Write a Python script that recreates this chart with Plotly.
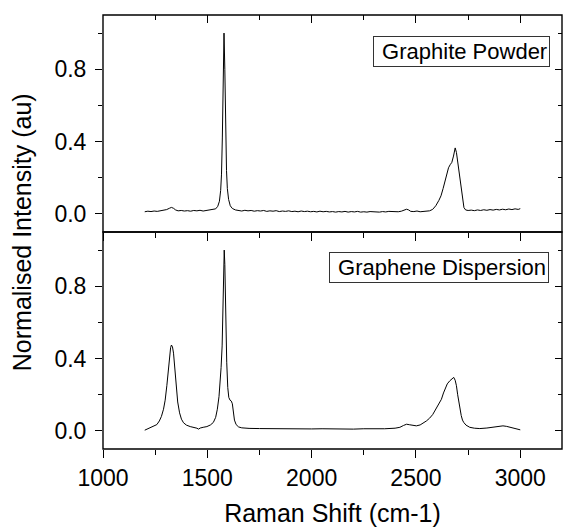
import plotly.graph_objects as go

# ---- Data ----
graphite_x = [1200, 1215, 1230, 1245, 1260, 1275, 1290, 1305, 1318, 1328, 1338, 1348, 1360, 1375, 1390,
              1405, 1420, 1435, 1450, 1465, 1480, 1495, 1510, 1525, 1540, 1550, 1558, 1564, 1568, 1572,
              1576, 1580, 1584, 1588, 1592, 1596, 1602, 1610, 1620, 1635, 1650,
              1665, 1680, 1695, 1710, 1725, 1740, 1755, 1770, 1785, 1800, 1815, 1830, 1845, 1860, 1875,
              1890, 1905, 1920, 1935, 1950, 1965, 1980, 1995, 2010, 2025, 2040, 2055, 2070, 2085, 2100,
              2115, 2130, 2145, 2160, 2175, 2190, 2205, 2220, 2235, 2250, 2265, 2280, 2295, 2310, 2325,
              2340, 2355, 2370, 2385, 2400, 2415, 2430, 2445, 2455, 2465, 2475, 2490, 2505, 2520, 2535,
              2550, 2565, 2580, 2595, 2610, 2620, 2630, 2640, 2648, 2656, 2664, 2672, 2680, 2688, 2694,
              2700, 2706, 2712, 2718, 2724, 2730, 2738, 2750, 2765, 2780, 2795, 2810, 2825, 2840, 2855,
              2870, 2885, 2900, 2915, 2930, 2945, 2960, 2975, 2990, 3000]
graphite_y = [0.012, 0.015, 0.013, 0.016, 0.014, 0.017, 0.019, 0.024, 0.031, 0.036, 0.031, 0.022, 0.017, 0.019, 0.016,
              0.018, 0.015, 0.019, 0.017, 0.020, 0.016, 0.019, 0.018, 0.021, 0.028, 0.042, 0.07, 0.13, 0.22, 0.42,
              0.78, 1.0, 0.80, 0.45, 0.24, 0.14, 0.08, 0.045, 0.03, 0.022, 0.019,
              0.016, 0.020, 0.017, 0.019, 0.015, 0.018, 0.016, 0.019, 0.014, 0.017, 0.015, 0.018, 0.013, 0.016, 0.014,
              0.017, 0.013, 0.015, 0.012, 0.016, 0.013, 0.015, 0.012, 0.014, 0.011, 0.015, 0.012, 0.014, 0.011, 0.013,
              0.010, 0.013, 0.011, 0.014, 0.010, 0.013, 0.011, 0.014, 0.010, 0.012, 0.010, 0.013, 0.011, 0.013, 0.010,
              0.013, 0.011, 0.014, 0.012, 0.014, 0.012, 0.015, 0.020, 0.026, 0.022, 0.014, 0.013, 0.016, 0.012, 0.015,
              0.014, 0.017, 0.025, 0.045, 0.075, 0.10, 0.14, 0.19, 0.225, 0.255, 0.272, 0.285, 0.32, 0.365, 0.34,
              0.29, 0.23, 0.17, 0.12, 0.07, 0.035, 0.022, 0.019, 0.021, 0.018, 0.022, 0.019, 0.023, 0.020, 0.024,
              0.021, 0.025, 0.022, 0.026, 0.023, 0.027, 0.024, 0.028, 0.025, 0.029]

graphene_x = [1200, 1215, 1230, 1245, 1258, 1270, 1280, 1290, 1298, 1306, 1313, 1319, 1324, 1328, 1333,
              1338, 1344, 1351, 1358, 1367, 1376, 1386, 1400, 1418, 1435, 1450, 1458, 1466, 1480, 1498,
              1515, 1529, 1540, 1548, 1556, 1561, 1566, 1571, 1575, 1579, 1581, 1584, 1588, 1593, 1598,
              1603, 1609, 1615, 1620, 1625, 1630, 1638, 1650, 1665, 1680, 1700, 1750, 1800, 1850, 1900,
              1950, 2000, 2050, 2100, 2150, 2200, 2250, 2300, 2350, 2400, 2423, 2440, 2455, 2470, 2485,
              2502, 2520, 2535, 2550, 2565, 2580, 2590, 2600, 2610, 2622, 2632, 2641, 2650, 2662, 2672,
              2681, 2688, 2694, 2700, 2705, 2710, 2717, 2723, 2729, 2740, 2758, 2780, 2806, 2840, 2869,
              2895, 2917, 2935, 2950, 2965, 2980, 2990, 3000]
graphene_y = [0.004, 0.012, 0.018, 0.024, 0.035, 0.055, 0.08, 0.12, 0.17, 0.25, 0.34, 0.415, 0.46, 0.475, 0.465,
              0.43, 0.35, 0.25, 0.16, 0.10, 0.065, 0.045, 0.032, 0.024, 0.02, 0.015, 0.01, 0.016, 0.02, 0.024,
              0.033, 0.047, 0.075, 0.12, 0.19, 0.25, 0.35, 0.47, 0.72, 0.97, 1.0, 0.92, 0.65, 0.38, 0.24,
              0.185, 0.17, 0.165, 0.15, 0.10, 0.06, 0.035, 0.022, 0.017, 0.015, 0.014, 0.013, 0.012, 0.013, 0.011,
              0.012, 0.011, 0.012, 0.010, 0.011, 0.010, 0.012, 0.011, 0.012, 0.015, 0.02, 0.03, 0.037, 0.034, 0.03,
              0.028, 0.033, 0.042, 0.055, 0.07, 0.09, 0.11, 0.13, 0.15, 0.175, 0.21, 0.24, 0.26, 0.277, 0.287,
              0.296, 0.28, 0.25, 0.2, 0.16, 0.12, 0.085, 0.06, 0.047, 0.032, 0.02, 0.015, 0.013, 0.016, 0.02,
              0.025, 0.028, 0.025, 0.02, 0.015, 0.012, 0.01, 0.006]

panel_labels = ["Graphite Powder", "Graphene Dispersion"]
x_title = "Raman Shift (cm-1)"
y_title = "Normalised Intensity (au)"
x_range = [1000, 3200]
y_range = [-0.1, 1.1]

FONT = "Liberation Sans, Arial, sans-serif"
LW = 1.4
TICK_FS = 23
TITLE_FS = 25
LABEL_FS = 22

fig = go.Figure()
fig.add_trace(go.Scatter(x=graphene_x, y=graphene_y, mode="lines", xaxis="x", yaxis="y",
                         line=dict(color="black", width=1), showlegend=False, hoverinfo="skip"))
fig.add_trace(go.Scatter(x=graphite_x, y=graphite_y, mode="lines", xaxis="x2", yaxis="y2",
                         line=dict(color="black", width=1), showlegend=False, hoverinfo="skip"))
# empty traces to register the mirror (inside-tick) axes
for xa, ya in [("x3", "y2"), ("x", "y3"), ("x2", "y4")]:
    fig.add_trace(go.Scatter(x=[None], y=[None], xaxis=xa, yaxis=ya, showlegend=False, hoverinfo="skip"))

base = dict(showline=False, showgrid=False, zeroline=False,
            automargin=False, tickcolor="black", tickwidth=LW,
            tickfont=dict(family=FONT, size=TICK_FS, color="black"))

xmaj = dict(range=x_range, tick0=1000, dtick=500)
ymaj = dict(range=y_range, tick0=0, dtick=0.4, tickformat=".1f")

fig.update_layout(
    width=564, height=531,
    margin=dict(l=103, r=2, t=15, b=82),
    paper_bgcolor="white", plot_bgcolor="white",
    font=dict(family=FONT, color="black"),
    xaxis=dict(**base, **xmaj, anchor="y", domain=[0, 1], ticks="outside", ticklen=8,
               minor=dict(ticks="outside", dtick=250, ticklen=5, tickwidth=LW, tickcolor="black"),
               title=dict(text=x_title, font=dict(family=FONT, size=TITLE_FS), standoff=14)),
    xaxis2=dict(**base, **xmaj, anchor="y2", domain=[0, 1], ticks="outside", ticklen=8, showticklabels=False,
                minor=dict(ticks="outside", dtick=250, ticklen=5, tickwidth=LW, tickcolor="black")),
    xaxis3=dict(**base, **xmaj, anchor="y2", overlaying="x2", side="top", ticks="inside", ticklen=8,
                showticklabels=False,
                minor=dict(ticks="inside", dtick=250, ticklen=5, tickwidth=LW, tickcolor="black")),
    yaxis=dict(**base, **ymaj, anchor="x", domain=[0, 0.5], ticks="outside", ticklen=7, ticklabelstandoff=4,
               minor=dict(ticks="outside", dtick=0.2, ticklen=4, tickwidth=LW, tickcolor="black")),
    yaxis2=dict(**base, **ymaj, anchor="x2", domain=[0.5, 1], ticks="outside", ticklen=7, ticklabelstandoff=4,
                minor=dict(ticks="outside", dtick=0.2, ticklen=4, tickwidth=LW, tickcolor="black")),
    yaxis3=dict(**base, **ymaj, anchor="x", overlaying="y", side="right", ticks="inside", ticklen=7,
                showticklabels=False,
                minor=dict(ticks="inside", dtick=0.2, ticklen=4, tickwidth=LW, tickcolor="black")),
    yaxis4=dict(**base, **ymaj, anchor="x2", overlaying="y2", side="right", ticks="inside", ticklen=7,
                showticklabels=False,
                minor=dict(ticks="inside", dtick=0.2, ticklen=4, tickwidth=LW, tickcolor="black")),
)

# panel frames
for xr, yr in [("x domain", "y domain"), ("x2 domain", "y2 domain")]:
    fig.add_shape(type="rect", xref=xr, yref=yr, x0=0, x1=1, y0=0, y1=1,
                  line=dict(color="black", width=LW), fillcolor="rgba(0,0,0,0)", layer="above")

fig.add_annotation(text=" " + panel_labels[0], xref="paper", yref="paper", x=0.974, y=0.917,
                   xanchor="right", yanchor="middle", showarrow=False,
                   font=dict(family=FONT, size=LABEL_FS, color="black"),
                   bordercolor="#333333", borderwidth=1, borderpad=2, bgcolor="white")
fig.add_annotation(text=" " + panel_labels[1], xref="paper", yref="paper", x=0.972, y=0.418,
                   xanchor="right", yanchor="middle", showarrow=False,
                   font=dict(family=FONT, size=LABEL_FS, color="black"),
                   bordercolor="#333333", borderwidth=1, borderpad=2, bgcolor="white")
fig.add_annotation(text=y_title, xref="paper", yref="paper", x=-0.176, y=0.5,
                   xanchor="center", yanchor="middle", textangle=-90, showarrow=False,
                   font=dict(family=FONT, size=TITLE_FS, color="black"))

fig.write_html("out.html", config={"displayModeBar": False},
               post_script="document.body.style.margin='0';document.body.style.overflow='hidden';")
